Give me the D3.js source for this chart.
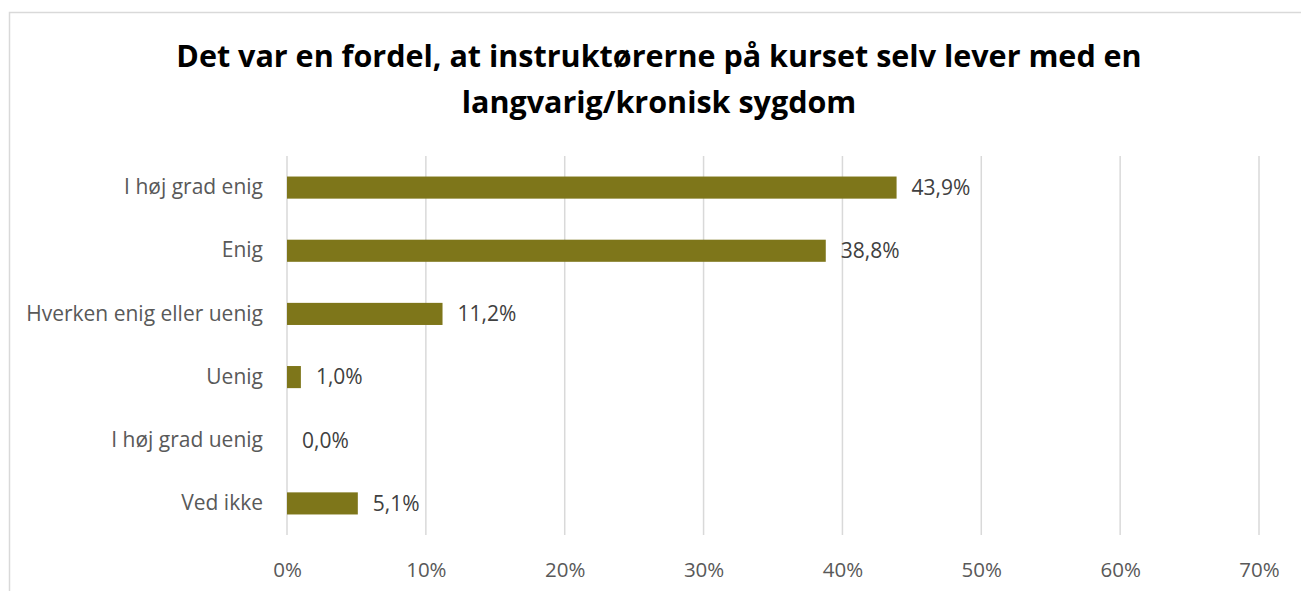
<!DOCTYPE html>
<html>
<head>
<meta charset="utf-8">
<script src="https://cdn.jsdelivr.net/npm/d3@7"></script>
<style>
  body { margin: 0; background: #fff; }
  text { font-family: "Open Sans", sans-serif; }
</style>
</head>
<body>
<div id="chart"></div>
<script>
const categories = ["I høj grad enig", "Enig", "Hverken enig eller uenig", "Uenig", "I høj grad uenig", "Ved ikke"]
const values = [43.9, 38.8, 11.2, 1.0, 0.0, 5.1]
const ticks = [0, 10, 20, 30, 40, 50, 60, 70]
const titleLines = ["Det var en fordel, at instruktørerne på kurset selv lever med en", "langvarig/kronisk sygdom"]

const width = 1301
const height = 591
const margin = { top: 156, right: 42, bottom: 56, left: 287 }

const data = categories.map((c, i) => ({ cat: c, value: values[i] }))

const svg = d3.select("#chart")
    .append("svg")
    .attr("width", width)
    .attr("height", height)

// frame
svg.append("rect")
    .attr("x", 9.5)
    .attr("y", 12.5)
    .attr("width", 1300)
    .attr("height", 600)
    .attr("fill", "none")
    .attr("stroke", "#d9d9d9")
    .attr("stroke-width", 1.5)

svg.append("g")
    .selectAll("text")
    .data(titleLines)
    .enter()
    .append("text")
    .attr("x", 659)
    .attr("y", (d, i) => 67 + i * 46)
    .attr("text-anchor", "middle")
    .attr("font-size", 30.5)
    .attr("font-weight", "bold")
    .attr("fill", "#000")
    .text(d => d)

const x = d3.scaleLinear()
    .domain([0, 70])
    .range([margin.left, width - margin.right])

const y = d3.scaleBand()
    .domain(categories)
    .range([margin.top, height - margin.bottom])
    .paddingInner(0.65)
    .paddingOuter(0.325)

// gridlines
svg.append("g")
    .selectAll("line")
    .data(ticks)
    .enter()
    .append("line")
    .attr("x1", d => x(d))
    .attr("x2", d => x(d))
    .attr("y1", margin.top)
    .attr("y2", height - margin.bottom)
    .attr("stroke", "#d9d9d9")
    .attr("stroke-width", 1.5)

const xAxis = svg.append("g")
    .attr("transform", `translate(0,${height - margin.bottom})`)
    .call(d3.axisBottom(x).tickValues(ticks).tickSize(0).tickPadding(27).tickFormat(d => d + "%"))
xAxis.select(".domain").remove()
xAxis.selectAll("text")
    .attr("font-size", 20.5)
    .attr("fill", "#595959")
    .style("font-family", "'Open Sans', sans-serif")

const yAxis = svg.append("g")
    .attr("transform", `translate(${margin.left},0)`)
    .call(d3.axisLeft(y).tickSize(0).tickPadding(24))
yAxis.select(".domain").remove()
yAxis.selectAll("text")
    .attr("font-size", 21)
    .attr("fill", "#595959")
    .style("font-family", "'Open Sans', sans-serif")

svg.append("g")
    .selectAll("rect")
    .data(data)
    .enter()
    .append("rect")
    .attr("x", x(0))
    .attr("y", d => y(d.cat))
    .attr("width", d => x(d.value) - x(0))
    .attr("height", y.bandwidth())
    .attr("fill", "#7e761a")

svg.append("g")
    .selectAll("text")
    .data(data)
    .enter()
    .append("text")
    .attr("x", d => x(d.value) + 15)
    .attr("y", d => y(d.cat) + y.bandwidth() / 2)
    .attr("dy", "0.35em")
    .attr("font-size", 21)
    .attr("fill", "#404040")
    .text(d => d.value.toFixed(1).replace(".", ",") + "%")
</script>
</body>
</html>
